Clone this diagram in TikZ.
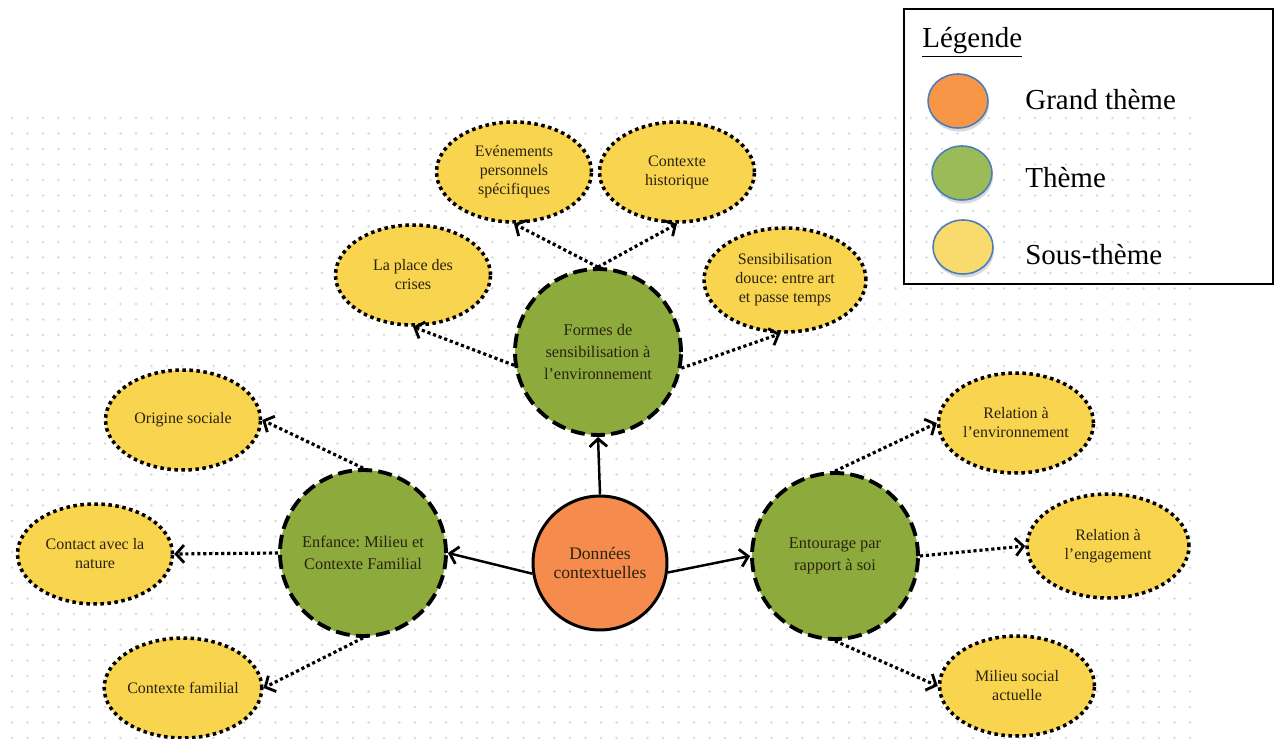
\documentclass[tikz,border=0pt]{standalone}
\usepackage{fontspec}
\setmainfont{Liberation Serif}
\usepackage{xcolor}
\usetikzlibrary{shapes.geometric, arrows.meta, shadows}
\definecolor{grandorange}{HTML}{F58B4C}
\definecolor{themegreen}{HTML}{8DAA3D}
\definecolor{soustheme}{HTML}{F9D44F}
\definecolor{inkdark}{HTML}{2A2210}
\definecolor{dotgray}{HTML}{D9D9D9}
\definecolor{legblue}{HTML}{4A7EBB}
\definecolor{legorange}{HTML}{F79646}
\definecolor{leggreen}{HTML}{9BBB59}
\definecolor{legyellow}{HTML}{F9DB6D}
\tikzstyle{grand} = [circle, draw=black, line width=1.7pt, fill=grandorange,
minimum size=2.68cm, inner sep=0pt, align=center, text=inkdark,
font=\fontsize{10}{11.3}\selectfont]
\tikzstyle{theme} = [circle, draw=black, line width=2.2pt, dash pattern=on 8pt off 3.5pt,
fill=themegreen, minimum size=3.32cm, inner sep=0pt, align=center, text=inkdark,
font=\fontsize{9.3}{12.7}\selectfont]
\tikzstyle{sous} = [ellipse, draw=black, line width=2pt, dash pattern=on 2pt off 2pt,
fill=soustheme, minimum width=3.1cm, minimum height=2cm, inner sep=0pt,
align=center, text=inkdark, font=\fontsize{9.1}{10.8}\selectfont]
\tikzstyle{large} = [minimum width=3.24cm, minimum height=2.08cm]
\tikzstyle{arrow} = [line width=1.4pt, -{Straight Barb[length=4.5pt,width=10pt,line width=1.6pt]}]
\tikzstyle{dotarrow} = [line width=1.8pt, dash pattern=on 1.8pt off 1.6pt,
-{Straight Barb[length=4.5pt,width=10pt,line width=1.6pt]}]
\tikzstyle{legdisc} = [ellipse, draw=legblue, line width=0.9pt, minimum width=1.2cm,
minimum height=1.08cm, drop shadow={opacity=0.3, shadow xshift=0.6pt, shadow yshift=-2pt}]
\tikzstyle{legtext} = [anchor=base west, inner sep=0pt, font=\fontsize{16.5}{20}\selectfont]

\begin{document}
\frenchspacing
\begin{tikzpicture}[x=0.02cm, y=-0.02cm]
  \useasboundingbox (0,0) rectangle (1277,739);
  % dotted paper
  \foreach \i in {0,...,76}
    \foreach \j in {0,...,40}
      \fill[dotgray] (12+\i*15.5, 118+\j*15.5) circle (0.75pt);

  % legend
  \node[draw=black, line width=1pt, minimum width=7.38cm, minimum height=5.5cm,
    anchor=north west] (legende) at (903,8) {};
  \node[legtext] (legtitle) at (922,48) {\underline{Légende}};
  \node[legdisc, fill=legorange] (leggrand) at (958,101) {};
  \node[legdisc, fill=leggreen] (legtheme) at (962,173) {};
  \node[legdisc, fill=legyellow] (legsous) at (963,247) {};
  \node[legtext] (txtgrand) at (1025,110) {Grand thème};
  \node[legtext] (txttheme) at (1025,188) {Thème};
  \node[legtext] (txtsous) at (1025,265) {Sous-thème};

  % themes
  \node[grand] (donnees) at (600,563) {Données\\contextuelles};
  \node[theme] (formes) at (598,352) {Formes de\\sensibilisation à\\l'environnement};
  \node[theme] (enfance) at (363,553) {Enfance: Milieu et\\Contexte Familial};
  \node[theme] (entourage) at (835,556) {Entourage par\\rapport à soi};

  % sous-themes
  \node[sous] (evenements) at (514,172) {Evénements\\personnels\\spécifiques};
  \node[sous] (historique) at (677,172) {Contexte\\historique};
  \node[sous] (crises) at (413,275) {La place des\\crises};
  \node[sous, large] (douce) at (785,280) {Sensibilisation\\douce: entre art\\et passe temps};
  \node[sous] (origine) at (183,420) {Origine sociale};
  \node[sous] (contact) at (95,554) {Contact avec la\\nature};
  \node[sous] (familial) at (183,688) {Contexte familial};
  \node[sous] (relenv) at (1016,423) {Relation à\\l'environnement};
  \node[sous, large] (releng) at (1108,546) {Relation à\\l'engagement};
  \node[sous] (milieu) at (1017,686) {Milieu social\\actuelle};

  \draw[arrow] (donnees.north) -- (formes.south);
  \draw[arrow] (donnees.189) -- (enfance.east);
  \draw[arrow] (donnees.352) -- (entourage.west);

  \draw[dotarrow] (formes.north) -- (evenements.south);
  \draw[dotarrow] (formes.north) -- (historique.south);
  \draw[dotarrow] (formes.189) -- (crises.south);
  \draw[dotarrow] (formes.349) -- (douce.265);
  \draw[dotarrow] (enfance.north) -- (origine.east);
  \draw[dotarrow] (enfance.west) -- (contact.east);
  \draw[dotarrow] (enfance.south) -- (familial.east);
  \draw[dotarrow] (entourage.north) -- (relenv.west);
  \draw[dotarrow] (entourage.east) -- (releng.west);
  \draw[dotarrow] (entourage.south) -- (milieu.west);
\end{tikzpicture}
\end{document}
